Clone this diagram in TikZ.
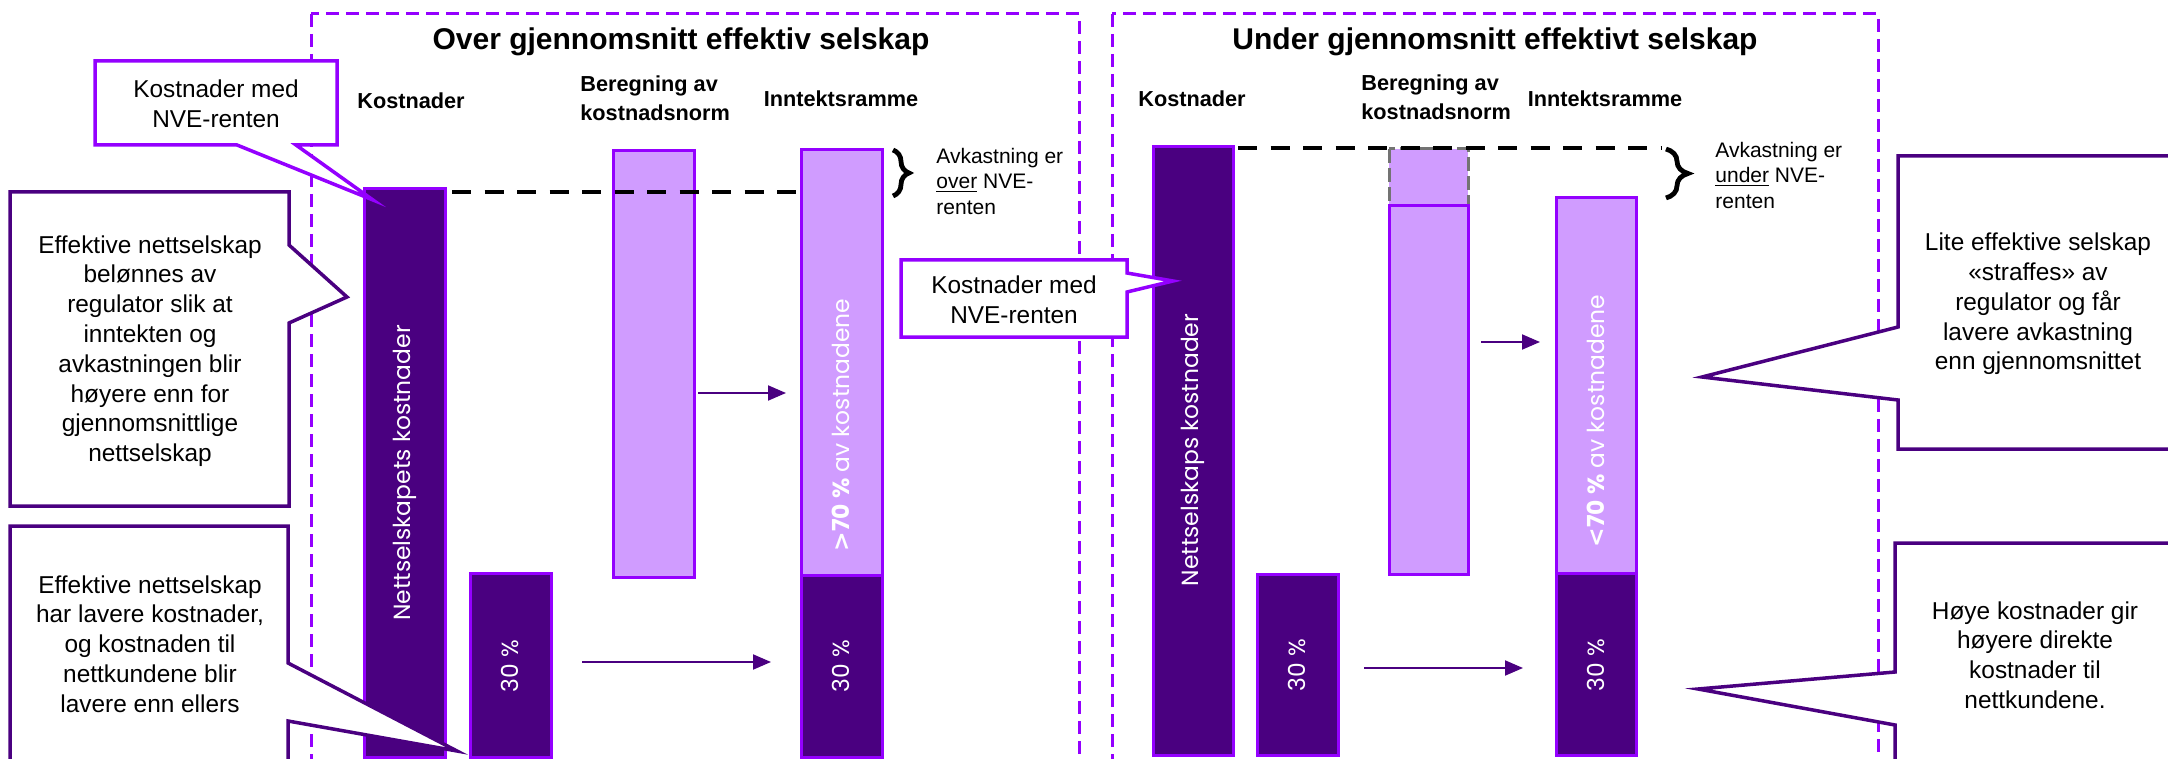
\documentclass[tikz,border=0pt]{standalone}
\usepackage{fontspec}
\setmainfont{Liberation Sans}
\newfontfamily\stolpefont{Poppins}
\newfontfamily\tegnfont{DejaVu Sans}
\usetikzlibrary{arrows.meta,decorations.pathreplacing}
\definecolor{mork}{HTML}{4A0080}
\definecolor{lilla}{HTML}{9400FF}
\definecolor{lys}{HTML}{D09CFF}
\tikzset{>={Triangle[length=9pt,width=7.5pt]},
  panel/.style={lilla,line width=1.5pt,dash pattern=on 6.5pt off 3.5pt},
  morkbar/.style={fill=mork,draw=lilla,line width=1.5pt},
  lysbar/.style={fill=lys,draw=lilla,line width=1.5pt},
  graabar/.style={fill=lys,draw=black!55,line width=1.5pt,dash pattern=on 7pt off 2.5pt},
  snitt/.style={line width=2.2pt,dash pattern=on 9.5pt off 6.75pt},
  klamme/.style={line width=2.4pt,decorate,decoration={brace,amplitude=#1}},
  pil/.style={mork,line width=1pt,->},
  boble/.style={fill=white,draw=#1,line width=1.75pt},
  tittel/.style={font=\fontsize{15}{18}\selectfont\bfseries},
  kolonne/.style={font=\fontsize{10.85}{14.5}\selectfont\bfseries,align=left},
  merknad/.style={font=\fontsize{12.2}{14.9}\selectfont,align=center},
  avk/.style={font=\fontsize{10.5}{12.75}\selectfont,align=left,anchor=west,inner sep=0pt},
  stolpetekst/.style={white,rotate=90,font=\stolpefont\fontsize{11.7}{14}\selectfont}}
\newcommand{\stolpe}[5]{\draw[#1] (#2,#3) rectangle (#4,#5);}
\newcommand{\avkastning}[4]{\node[avk] (#1) at (#2,#3) {Avkastning er\\\underline{#4} NVE-\\renten};}

\begin{document}
\begin{tikzpicture}[x=.5pt,y=-.5pt]
\useasboundingbox (0,0) rectangle (2168,759);
\clip (0,0) rectangle (2168,759);
% paneler
\draw[panel] (311,14) rectangle (1079,790);
\draw[panel] (1112,14) rectangle (1878,790);
\node[tittel] (tittelO) at (681,42) {Over gjennomsnitt effektiv selskap};
\node[tittel] (tittelU) at (1495,42) {Under gjennomsnitt effektivt selskap};
\node[kolonne] (kostO) at (411,101) {Kostnader};
\node[kolonne,anchor=west,inner sep=0pt] (normO) at (580,98) {Beregning av\\kostnadsnorm};
\node[kolonne] (rammeO) at (841,99) {Inntektsramme};
\node[kolonne] (kostU) at (1192,99) {Kostnader};
\node[kolonne,anchor=west,inner sep=0pt] (normU) at (1361,97) {Beregning av\\kostnadsnorm};
\node[kolonne] (rammeU) at (1605,99) {Inntektsramme};
% stolper, over snitt
\stolpe{morkbar}{364}{189}{445}{757}
\stolpe{morkbar}{470}{573}{551}{757}
\stolpe{lysbar}{613}{151}{694}{577}
\stolpe{lysbar}{801}{150}{882}{575}
\stolpe{morkbar}{801}{575}{882}{757}
\node[stolpetekst] (kO) at (405,473) {Nettselskapets kostnader};
\node[stolpetekst] (pO) at (510,666) {30 \%};
\node[stolpetekst] (sO) at (841,425) {\textbf{{\tegnfont >}70 \%} av kostnadene};
\node[stolpetekst] (rO) at (841,666) {30 \%};
% stolper, under snitt
\stolpe{morkbar}{1153}{147}{1233}{755}
\stolpe{morkbar}{1257}{574}{1338}{755}
\stolpe{graabar}{1389}{149}{1468}{206}
\stolpe{lysbar}{1389}{206}{1468}{574}
\stolpe{lysbar}{1556}{198}{1636}{573}
\stolpe{morkbar}{1556}{573}{1636}{755}
\node[stolpetekst] (kU) at (1193,450) {Nettselskaps kostnader};
\node[stolpetekst] (pU) at (1297,665) {30 \%};
\node[stolpetekst] (sU) at (1596,421) {\textbf{{\tegnfont <}70 \%} av kostnadene};
\node[stolpetekst] (rU) at (1596,665) {30 \%};
% avkastning
\coordinate (dO1) at (452,192); \coordinate (dO2) at (801,192);
\coordinate (dU1) at (1238,148); \coordinate (dU2) at (1662,148);
\draw[snitt] (dO1) -- (dO2);
\draw[snitt] (dU1) -- (dU2);
\draw[klamme=8pt] (893,150) -- (893,196);
\draw[klamme=11pt] (1666,149) -- (1666,198);
\avkastning{avkO}{936}{181}{over}
\avkastning{avkU}{1715}{175}{under}
% piler
\coordinate (a1) at (698,393); \coordinate (a2) at (786,393);
\coordinate (a3) at (582,662); \coordinate (a4) at (771,662);
\coordinate (a5) at (1481,342); \coordinate (a6) at (1540,342);
\coordinate (a7) at (1364,668); \coordinate (a8) at (1523,668);
\draw[pil] (a1) -- (a2); \draw[pil] (a3) -- (a4);
\draw[pil] (a5) -- (a6); \draw[pil] (a7) -- (a8);
% merknader
\draw[boble=lilla] (95,61) -- (337,61) -- (337,145) -- (296,145) -- (373,200) -- (237,145) -- (95,145) -- cycle;
\node[merknad] (m1) at (216,104) {Kostnader med\\NVE-renten};
\draw[boble=mork] (10,192) -- (289,192) -- (289,245) -- (347,297) -- (289,323) -- (289,506) -- (10,506) -- cycle;
\node[merknad] (m2) at (150,351) {Effektive nettselskap\\belønnes av\\regulator slik at\\inntekten og\\avkastningen blir\\høyere enn for\\gjennomsnittlige\\nettselskap};
\draw[boble=mork] (10,526) -- (288,526) -- (288,663) -- (457,751) -- (288,721) -- (288,800) -- (10,800) -- cycle;
\node[merknad] (m3) at (150,644) {Effektive nettselskap\\har lavere kostnader,\\og kostnaden til\\nettkundene blir\\lavere enn ellers};
\draw[boble=lilla] (901,260) -- (1127,260) -- (1127,273) -- (1173,281) -- (1127,292) -- (1127,337) -- (901,337) -- cycle;
\node[merknad] (m4) at (1014,300) {Kostnader med\\NVE-renten};
\draw[boble=mork] (1898,156) -- (2180,156) -- (2180,449) -- (1898,449) -- (1898,400) -- (1702,377) -- (1898,327) -- cycle;
\node[merknad] (m5) at (2038,304) {Lite effektive selskap\\«straffes» av\\regulator og får\\lavere avkastning\\enn gjennomsnittet};
\draw[boble=mork] (1895,543) -- (2180,543) -- (2180,800) -- (1895,800) -- (1895,725) -- (1698,689) -- (1895,672) -- cycle;
\node[merknad] (m6) at (2035,655) {Høye kostnader gir\\høyere direkte\\kostnader til\\nettkundene.};
\end{tikzpicture}
\end{document}
